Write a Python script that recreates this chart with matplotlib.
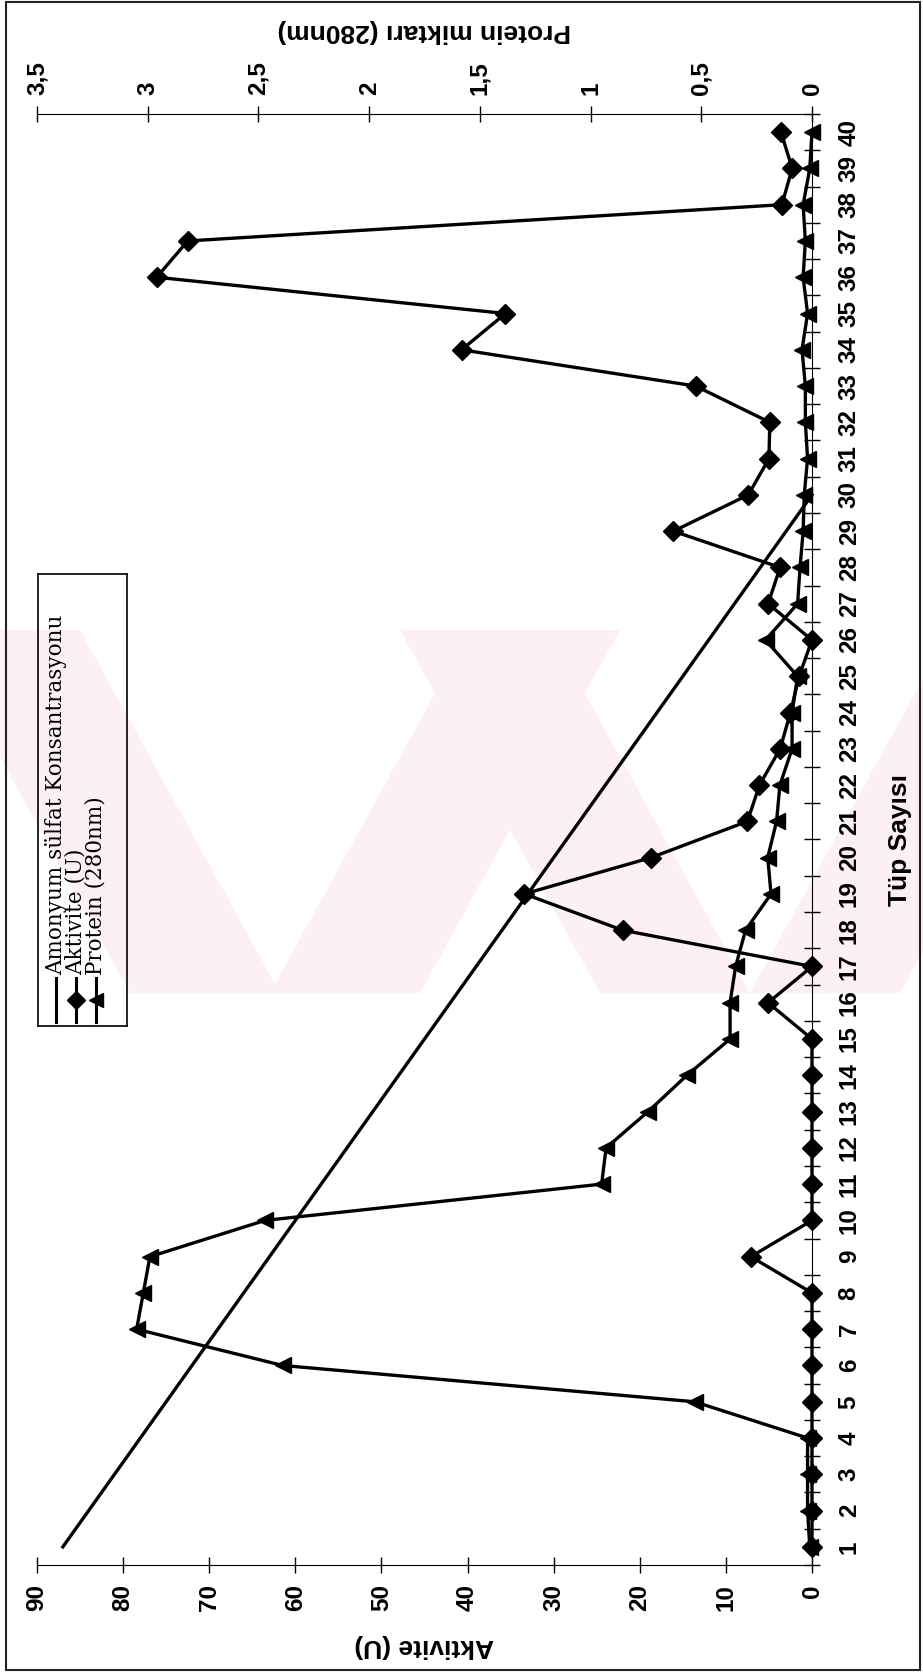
import matplotlib.pyplot as plt
from matplotlib.lines import Line2D
from matplotlib.patches import Rectangle, Polygon

W, H = 923, 1676

# tube numbers and measured values
tup = list(range(1, 41))
aktivite = [0, 0, 0, 0, 0, 0, 0, 0, 7.1, 0,
            0, 0, 0, 0, 0, 5.1, 0, 22.0, 33.4, 18.7,
            7.5, 6.1, 3.7, 2.5, 1.5, 0, 5.1, 3.7, 16.1, 7.4,
            5.0, 4.9, 13.5, 40.7, 35.6, 76.1, 72.5, 3.5, 2.3, 3.6]
protein = [0.01, 0.02, 0.02, 0.02, 0.53, 2.39, 3.05, 3.02, 2.99, 2.47,
           0.95, 0.93, 0.74, 0.565, 0.37, 0.37, 0.345, 0.30, 0.185, 0.20,
           0.16, 0.145, 0.09, 0.09, 0.065, 0.21, 0.065, 0.054, 0.04, 0.035,
           0.02, 0.03, 0.03, 0.045, 0.02, 0.04, 0.03, 0.04, 0.01, 0.0]
amonyum_tup = [1, 30]
amonyum = [87, 0]

aktivite_ticks = list(range(0, 91, 10))
protein_ticks = [0, 0.5, 1, 1.5, 2, 2.5, 3, 3.5]
protein_labels = ['0', '0,5', '1', '1,5', '2', '2,5', '3', '3,5']

plt.rcParams['font.family'] = ['Liberation Sans', 'DejaVu Sans']

fig = plt.figure(figsize=(W / 100, H / 100), dpi=100)


def px(x, y):
    # page pixels (from top-left) -> figure fraction
    return (x / W, 1 - y / H)


# faint pink stamp across the middle of the page
pink = '#fdf0f3'
band_top, band_bot = 630, 993
for x0, shift in [(-70, 200), (400, 200), (470, -200), (950, -200)]:
    pts = [px(x0, band_top), px(x0 + 150, band_top),
           px(x0 + 150 + shift, band_bot), px(x0 + shift, band_bot)]
    fig.add_artist(Polygon(pts, closed=True, facecolor=pink, edgecolor='none',
                           transform=fig.transFigure, zorder=0))

# chart is drawn turned on its side: tubes run upward, activity grows to the left
ax = fig.add_axes([37 / W, 1 - 1565 / H, 775 / W, 1451 / H])
ax2 = ax.twiny()
ax.patch.set_visible(False)

ax.plot(amonyum, amonyum_tup, color='black', lw=2.4, clip_on=False)
ax.plot(aktivite, tup, color='black', lw=2.4, marker='D', ms=10,
        clip_on=False, zorder=3)
ax2.plot(protein, tup, color='black', lw=2.4, marker='<', ms=11,
         clip_on=False)

ax.set_xlim(90, 0)
ax.set_ylim(0.5, 40.5)
ax2.set_xlim(3.5, 0)

for s in ['left', 'top']:
    ax.spines[s].set_visible(False)
for s in ['left', 'right', 'bottom']:
    ax2.spines[s].set_visible(False)

# activity axis (bottom)
ax.set_xticks(aktivite_ticks)
ax.tick_params(axis='x', direction='inout', length=12, width=1,
               labelsize=17.5, labelrotation=90, pad=8)

# tube axis (right), marks between tubes
ax.yaxis.tick_right()
ax.set_yticks(tup)
ax.set_yticks([t - 0.5 for t in tup] + [40.5], minor=True)
ax.tick_params(axis='y', which='major', length=0, labelsize=17.5,
               labelrotation=90, pad=18.5)
ax.tick_params(axis='y', which='minor', direction='inout', length=12, width=1)
for lab in ax.get_yticklabels():
    lab.set_va('center')

# protein axis (top)
ax2.set_xticks(protein_ticks)
ax2.set_xticklabels(protein_labels)
ax2.tick_params(axis='x', direction='inout', length=12, width=1,
                labelsize=17.5, labelrotation=90, pad=8)

for lab in ax.get_xticklabels() + ax.get_yticklabels() + ax2.get_xticklabels():
    lab.set_fontweight('bold')

ax.set_xlabel('Aktivite (U)', fontsize=19, fontweight='bold', rotation=180,
              labelpad=16)
ax2.set_xlabel('Protein miktarı (280nm)', fontsize=19, fontweight='bold',
               rotation=180, labelpad=16.5)
ax.yaxis.set_label_position('right')
ax.set_ylabel('Tüp Sayısı', fontsize=19, fontweight='bold', rotation=90,
              labelpad=20)

# legend box, laid out by hand so it can stand on its side
leg = fig.add_axes([38 / W, 1 - 1026 / H, 89 / W, 452 / H])
leg.set_xlim(0, 89)
leg.set_ylim(452, 0)
leg.set_xticks([])
leg.set_yticks([])
leg.patch.set_visible(False)
for s in leg.spines.values():
    s.set_linewidth(1.2)

entries = [('Amonyum sülfat Konsantrasyonu', None),
           ('Aktivite (U)', 'D'),
           ('Protein (280nm)', '<')]
for i, (name, mk) in enumerate(entries):
    xe = 18 + i * 20
    leg.add_line(Line2D([xe, xe], [448, 404], color='black', lw=2.2))
    if mk:
        leg.plot([xe], [426], marker=mk, color='black', ms=9 if mk == 'D' else 10)
    leg.text(xe, 401, name, rotation=90, ha='center', va='bottom',
             fontsize=15.5, family=['DejaVu Serif'])

# outer frame of the page
fig.add_artist(Rectangle((6 / W, 6 / H), 914 / W, 1668 / H, fill=False,
                         lw=1.5, edgecolor='#222222',
                         transform=fig.transFigure))

fig.savefig('out.png', dpi=100)
